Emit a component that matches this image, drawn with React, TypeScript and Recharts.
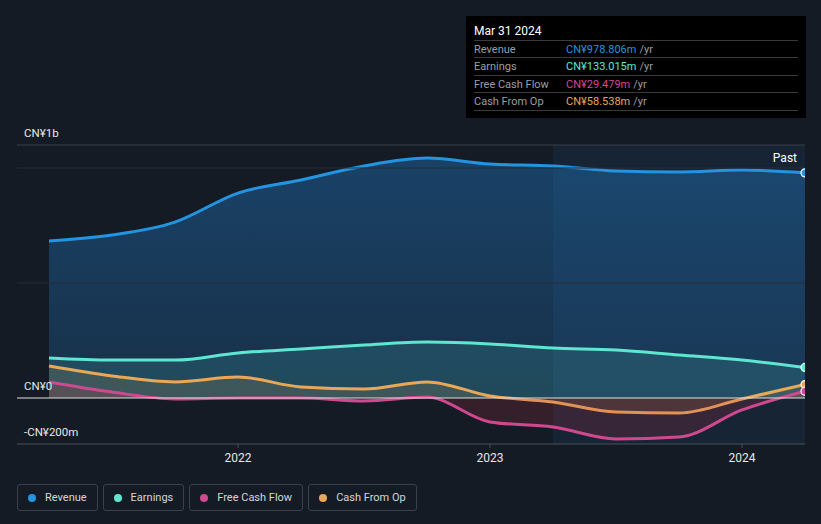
import React from 'react'
import {
  ComposedChart, Area, XAxis, YAxis, ReferenceLine, ReferenceArea,
} from 'recharts'

// quarter ends, Mar 2021 .. Mar 2024, as decimal years
const periods = [
  2021.25, 2021.5, 2021.75, 2022.0, 2022.25, 2022.5, 2022.75,
  2023.0, 2023.25, 2023.5, 2023.75, 2024.0, 2024.25,
]
// CN¥ millions
const revenue = [683, 709, 765, 891, 948, 1009, 1043, 1017, 1009, 987, 983, 991, 978.806]
const earnings = [174, 165, 165, 196, 213, 230, 243, 235, 217, 209, 187, 165, 133.015]
const freeCashFlow = [70, 26, -4, 0, 0, -13, 4, -104, -126, -178, -170, -52, 29.479]
const cashFromOp = [139, 96, 70, 91, 48, 39, 70, 9, -17, -61, -65, -4, 58.538]

const yearTicks = [2022, 2023, 2024]
const labelledValues = [1100, 0, -200]

const series = [
  { key: 'revenue', name: 'Revenue', color: '#2394df', value: 'CN¥978.806m' },
  { key: 'earnings', name: 'Earnings', color: '#5ee6d0', value: 'CN¥133.015m' },
  { key: 'fcf', name: 'Free Cash Flow', color: '#d0488f', value: 'CN¥29.479m' },
  { key: 'cfo', name: 'Cash From Op', color: '#e8a857', value: 'CN¥58.538m' },
]

const data = periods.map((t, i) => ({
  t,
  revenue: revenue[i],
  earnings: earnings[i],
  fcf: freeCashFlow[i],
  cfo: cashFromOp[i],
}))

const BG = '#151b25'
const FONT = 'Roboto, "Open Sans", sans-serif'

function fmtValue(v: number) {
  if (v === 0) return 'CN¥0'
  const a = Math.abs(v)
  const s = a >= 1000 ? `CN¥${(a / 1000).toFixed(0)}b` : `CN¥${a}m`
  return v < 0 ? `-${s}` : s
}

const gridColor: Record<number, string> = { 1100: '#3a404a', 0: '#e0e0e0', [-200]: 'none' }

function endDot(color: string) {
  return (props: any) => {
    const { cx, cy, index } = props
    if (index !== data.length - 1) return <g key={index} />
    return <circle key={index} cx={cx} cy={cy} r={4} fill={color} stroke="#ffffff" strokeWidth={1.2} />
  }
}

export default function App() {
  return (
    <div style={{ position: 'absolute', left: 0, top: 0, width: 821, height: 524, background: BG, fontFamily: FONT }}>
      <ComposedChart
        width={821}
        height={470}
        data={data}
        margin={{ top: 145, right: 16, left: 17, bottom: 0 }}
      >
        <defs>
          <linearGradient id="revFill" x1="0" y1="0" x2="0" y2="1">
            <stop offset="0%" stopColor="#1f72b8" stopOpacity={0.45} />
            <stop offset="100%" stopColor="#1f72b8" stopOpacity={0.24} />
          </linearGradient>
        </defs>
        <XAxis
          dataKey="t"
          type="number"
          domain={[2021.123, 2024.25]}
          ticks={yearTicks}
          height={26}
          tick={{ fill: '#e6e6e6', fontSize: 12, fontFamily: FONT }}
          tickSize={4}
          tickMargin={5}
          stroke="#4a505a"
          allowDataOverflow
        />
        <YAxis type="number" domain={[-200, 1100]} hide allowDataOverflow />
        <ReferenceArea
          x1={2023.25}
          x2={2024.25}
          y1={-200}
          y2={1100}
          fill="#2c6da3"
          fillOpacity={0.12}
          stroke="none"
          label={{ value: 'Past', position: 'insideTopRight', fill: '#ffffff', fontSize: 12, fontFamily: FONT, offset: 8 }}
        />
        <ReferenceLine y={1000} stroke="#262d38" />
        <ReferenceLine y={500} stroke="#262d38" />
        <Area
          type="monotone"
          dataKey="revenue"
          stroke="#2394df"
          strokeWidth={3}
          fill="url(#revFill)"
          fillOpacity={1}
          dot={endDot('#2394df')}
          activeDot={false}
          isAnimationActive={false}
        />
        <Area
          type="monotone"
          dataKey="earnings"
          stroke="#5ee6d0"
          strokeWidth={3}
          fill="#5ee6d0"
          fillOpacity={0.14}
          dot={endDot('#5ee6d0')}
          activeDot={false}
          isAnimationActive={false}
        />
        <Area
          type="monotone"
          dataKey="cfo"
          stroke="#e8a857"
          strokeWidth={3}
          fill="#e8a857"
          fillOpacity={0.14}
          dot={endDot('#e8a857')}
          activeDot={false}
          isAnimationActive={false}
        />
        <Area
          type="monotone"
          dataKey="fcf"
          stroke="#d0488f"
          strokeWidth={3}
          fill="#c8304a"
          fillOpacity={0.18}
          dot={endDot('#d0488f')}
          activeDot={false}
          isAnimationActive={false}
        />
        {labelledValues.map(v => (
          <ReferenceLine
            key={v}
            y={v}
            stroke={gridColor[v]}
            label={{ value: fmtValue(v), position: 'insideBottomLeft', offset: 7, fill: '#e6e6e6', fontSize: 11.5, fontFamily: FONT, dy: -1 }}
          />
        ))}
      </ComposedChart>

      <div style={{ position: 'absolute', left: 466, top: 16, width: 340, height: 102, background: '#000000', boxSizing: 'border-box', padding: '7px 8px 0 8px' }}>
        <div style={{ color: '#ffffff', fontSize: 12, height: 17, lineHeight: '16px', borderBottom: '1px solid #3a3a3a' }}>Mar 31 2024</div>
        {series.map(s => (
          <div key={s.key} style={{ display: 'flex', fontSize: 11, height: 16.4, lineHeight: '17px', borderBottom: '1px solid #3a3a3a' }}>
            <span style={{ width: 92, color: '#9a9ea6' }}>{s.name}</span>
            <span style={{ color: s.color }}>{s.value}</span>
            <span style={{ color: '#9a9ea6', marginLeft: 3 }}>/yr</span>
          </div>
        ))}
      </div>

      <div style={{ position: 'absolute', left: 17, top: 484, display: 'flex', gap: 5 }}>
        {series.map(s => (
          <div key={s.key} style={{ display: 'flex', alignItems: 'center', height: 25, padding: '0 10px 0 10px', border: '1px solid #3a404c', borderRadius: 3, color: '#d6d6d6', fontSize: 11 }}>
            <span style={{ width: 8, height: 8, borderRadius: 4, background: s.color, marginRight: 9 }} />
            {s.name}
          </div>
        ))}
      </div>
    </div>
  )
}
